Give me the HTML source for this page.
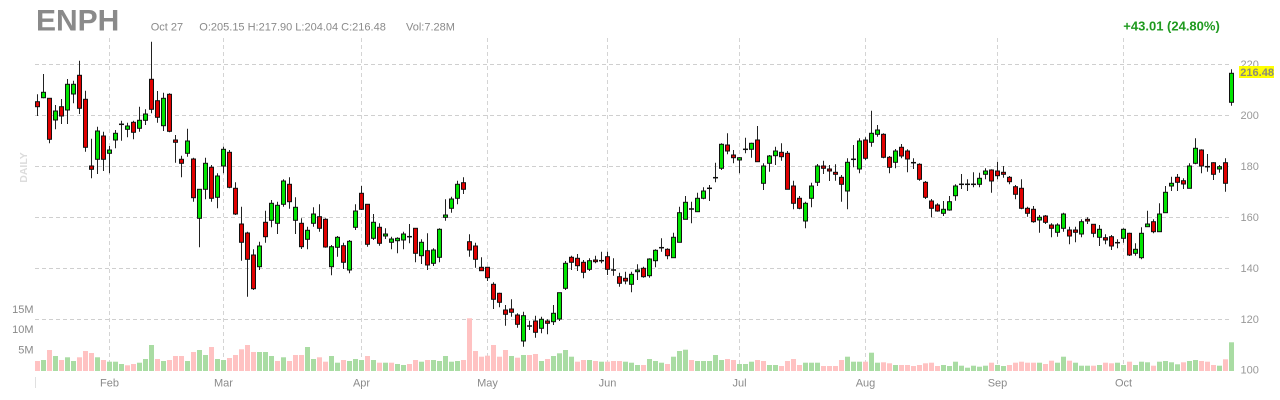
<!DOCTYPE html>
<html>
<head>
<meta charset="utf-8">
<style>
html,body{margin:0;padding:0;background:#fff;}
#wrap{position:relative;width:1280px;height:400px;overflow:hidden;background:#fff;font-family:"Liberation Sans",Arial,sans-serif;}
svg{position:absolute;left:0;top:0;}
</style>
</head>
<body>
<div id="wrap">
<svg id="chart" width="1280" height="400" viewBox="0 0 1280 400" xmlns="http://www.w3.org/2000/svg" font-family="Liberation Sans, Arial, sans-serif">
  <g id="grid"></g>
  <g id="vol"></g>
  <g id="candles"></g>
  <!-- header -->
  <text x="36" y="30.7" font-size="30" font-weight="bold" fill="#8a8a8a">ENPH</text>
  <text x="150.7" y="30.5" font-size="11" fill="#8a8a8a">Oct 27</text>
  <text x="199.3" y="30.5" font-size="11" fill="#8a8a8a">O:205.15 H:217.90 L:204.04 C:216.48</text>
  <text x="406" y="30.5" font-size="11" fill="#8a8a8a">Vol:7.28M</text>
  <text x="1123.3" y="30.7" font-size="13" font-weight="bold" fill="#1f9a1f">+43.01 (24.80%)</text>
  <!-- DAILY -->
  <text x="0" y="0" font-size="10.5" font-weight="bold" fill="#dcdcdc" text-anchor="middle" transform="translate(27,167.5) rotate(-90)">DAILY</text>
  <!-- price axis -->
  <g font-size="11" fill="#999">
    <text x="1240.5" y="68">220</text>
    <text x="1240.5" y="119">200</text>
    <text x="1240.5" y="170">180</text>
    <text x="1240.5" y="221">160</text>
    <text x="1240.5" y="272">140</text>
    <text x="1240.5" y="323">120</text>
    <text x="1240.5" y="373.5">100</text>
  </g>
  <rect x="1239" y="66" width="35" height="12" fill="#ffff00"/>
  <text x="1240.3" y="76" font-size="11" font-weight="bold" fill="#8a8a7a">216.48</text>
  <!-- volume axis -->
  <g font-size="11" fill="#8a8a8a" text-anchor="end">
    <text x="33.5" y="313">15M</text>
    <text x="33.5" y="333">10M</text>
    <text x="33.5" y="353.3">5M</text>
  </g>
  <!-- month labels -->
  <g font-size="11" fill="#8a8a8a" text-anchor="middle">
    <text x="109.5" y="386.5">Feb</text>
    <text x="223.5" y="386.5">Mar</text>
    <text x="361.5" y="386.5">Apr</text>
    <text x="487.5" y="386.5">May</text>
    <text x="607.5" y="386.5">Jun</text>
    <text x="739.5" y="386.5">Jul</text>
    <text x="865.5" y="386.5">Aug</text>
    <text x="997.5" y="386.5">Sep</text>
    <text x="1123.5" y="386.5">Oct</text>
  </g>
  <line x1="35.5" y1="377" x2="35.5" y2="388" stroke="#e0e0e0" stroke-width="1"/>
</svg>
</div>
<script>
(function(){
var NS="http://www.w3.org/2000/svg";
function el(tag,attrs,parent){var e=document.createElementNS(NS,tag);for(var k in attrs)e.setAttribute(k,attrs[k]);parent.appendChild(e);return e;}
var grid=document.getElementById('grid');
[64.5,115.5,166.5,217.5,268.5,319.5].forEach(function(y){
  el('line',{x1:35,y1:y,x2:1232,y2:y,stroke:'#cfcfcf','stroke-width':1,'stroke-dasharray':'4,3'},grid);
});
[12,31,54,75,95,117,138,160,181].forEach(function(i){
  var x=37.5+6*i;
  el('line',{x1:x,y1:38,x2:x,y2:372,stroke:'#d4d4d4','stroke-width':1,'stroke-dasharray':'4,3'},grid);
});
var D=[
[94.3,116,101.7,106.7,'r'],[74,98.3,92.3,97.7,'g'],[98.3,143.3,98.3,139.3,'r'],[105,129.3,111,120,'g'],[99,124,106.7,116,'r'],
[79,124,84.3,110,'g'],[80.7,103.3,84.3,94,'g'],[60.7,114,75.3,108.3,'r'],[90.7,151.7,99.3,147.3,'r'],[138.7,178.3,166,169.3,'r'],
[126.7,174,131,159.3,'g'],[131.7,171,136,159.3,'r'],[146,173.3,150,153.3,'g'],[130,148.3,133.3,140,'g'],[120.7,140.7,124.3,124.3,'d'],
[122.7,137.3,126,129.3,'g'],[120.7,139.3,122.3,132.3,'r'],[106.7,131.7,120.3,128.3,'g'],[109.3,125,114,120.3,'g'],[41.7,113.3,79.3,109.3,'r'],
[91,122.7,100.7,117.3,'r'],[92.7,131,98.3,125.7,'g'],[93.3,132.3,94.3,131.3,'r'],[135,162.7,140,142.3,'r'],[155.7,177.3,159.3,163.3,'r'],
[128.7,156.7,141,153.3,'g'],[157.7,201.7,159,197.7,'r'],[189.3,247.3,189.3,218.3,'g'],[157.7,199.3,163.3,189.3,'g'],[165,201.7,167.3,198.3,'r'],
[173.3,208.3,176,197.3,'g'],[146.7,173.3,149.3,166,'g'],[150,188.3,152.3,187.3,'r'],[182.3,215,188.3,214,'r'],[206.7,260.7,224,242.3,'r'],
[231.7,296.7,233,259.3,'r'],[249.3,290,255,288.7,'r'],[241.7,270,246,266.7,'g'],[210.7,242.7,222.3,236.7,'r'],[200,227.3,203.3,220.3,'g'],
[201.7,234,205.3,223.3,'g'],[179.3,206.7,181,204.3,'g'],[177.3,208.7,184.3,201.7,'r'],[197.3,234,207.3,220.3,'g'],[218.3,249,223.3,246.7,'r'],
[226.7,249.3,230.3,239.3,'g'],[207.3,226.7,214,223.3,'g'],[204.3,231.7,216.7,228.3,'r'],[218.3,247.7,219.3,247,'r'],[245,275.3,246.7,266.7,'g'],
[236,256.7,237.3,247.3,'g'],[242.7,269,245.7,262.3,'r'],[240,273.3,241.3,270,'g'],[204.3,230,211,227.3,'g'],[186,210,193.3,209.3,'r'],
[204,246.7,204.3,244.3,'r'],[214,240,222.3,238.3,'g'],[223.3,245.7,227.3,243.3,'r'],[228.3,239,234,236,'g'],[236.7,249.3,239,242.3,'g'],
[237.3,253.3,238.3,240.7,'g'],[231.7,249.3,234,240,'g'],[224,243.3,236.7,236.7,'d'],[228.3,262.3,228.3,253.3,'r'],[239.3,264,242.3,255.7,'g'],
[233.3,270,250.7,265,'r'],[248.3,266,250,263.3,'g'],[228.3,262.3,229.3,257.3,'g'],[199.3,220.7,215,217.3,'g'],[196.7,212.7,199,208.3,'g'],
[180.7,204.3,184.3,198.3,'g'],[177.3,194,182.7,189.3,'r'],[234.3,256.7,241.7,250,'r'],[242.7,267.7,246,259.3,'r'],[257.3,270.7,267.3,270.7,'r'],
[266.7,281,267.3,277.7,'r'],[282.3,309,284.3,299.3,'r'],[292.7,307.3,293.3,302.3,'r'],[305,325.7,310,314.3,'r'],[299.3,316.7,309,312.3,'r'],
[313.3,327.7,315,324.3,'r'],[311.7,346.7,315.7,341,'g'],[320.7,330,326,326,'d'],[315.7,337.7,321,332.3,'r'],[316.7,333.3,319.3,328.3,'g'],
[319.3,334.3,321,323.3,'r'],[305,325,313.3,321.7,'g'],[292.7,321,292.7,319,'g'],[261,290,263.3,288.3,'g'],[255.7,270,257.3,262.3,'r'],
[254,271,258.3,265.7,'r'],[260,278.3,262.3,272.3,'r'],[258.3,271,260.7,269.3,'g'],[255.7,263.3,260,261.7,'r'],[251.7,263.3,260.7,260.7,'d'],
[251.7,275,256.7,269.3,'r'],[258.3,275.7,270,270,'d'],[272.7,286.7,276.7,283.3,'r'],[271.7,284.3,278.3,281,'r'],[271.7,292.3,274.3,284.3,'g'],
[264.3,280,270,271.7,'g'],[266.7,277.7,268.3,276.7,'r'],[258.3,277.7,259,275.7,'g'],[249.3,267.3,250.3,260.7,'g'],[238.3,251.7,247.7,247.7,'d'],
[248.3,259.3,249.3,255.7,'r'],[232.7,257.7,237.3,257.7,'g'],[206.7,242.3,212.7,242.3,'g'],[196,219.3,202.3,219.3,'g'],[201.7,223.3,209,209,'d'],
[192.7,211.7,198.3,211.7,'g'],[187.3,199.3,191,198.3,'g'],[185,201,188.3,188.3,'d'],[162.7,182.3,177.7,177.7,'d'],[143.3,170,144.3,168.3,'g'],
[133.3,154.3,145,151,'r'],[150,163.3,155,157.7,'r'],[157.3,173.3,157.7,160,'g'],[137.7,153.3,149.3,149.3,'d'],[142.7,157.7,143.3,149.3,'g'],
[126,161.7,140,161.7,'r'],[163.3,190,166,183.3,'g'],[155,171.7,156,163.3,'g'],[146.7,165,151,155.7,'g'],[143.3,160.7,152.3,156.7,'r'],
[151,189.3,153.3,189.3,'r'],[180.7,209.3,186,203.3,'r'],[196,209.3,198.3,208.3,'r'],[201.7,228.3,203.3,221,'g'],[182.7,207.3,186,198.3,'g'],
[164,186,166,182.3,'g'],[160.7,174,166,168.3,'r'],[165,181,169,171,'r'],[164.3,180.7,172.3,174.3,'r'],[175,201.7,177.3,184.3,'r'],
[158.3,209.3,162.3,191,'g'],[145,167.3,159.3,159.3,'d'],[138.3,173.3,141,169,'g'],[137.3,160,140,158.3,'r'],[110.7,146.7,133.3,142.3,'g'],
[125,136.7,130,134.3,'g'],[133.3,158.3,134.3,157.3,'r'],[156,173.3,157.3,167.3,'r'],[149,168.3,151,162.3,'g'],[144,158.3,147.3,156,'r'],
[149.3,172.3,151,159,'r'],[158.3,169,162.7,162.7,'d'],[163.3,180.7,164.3,179.3,'r'],[181,199,182.3,197.3,'r'],[199,217.3,201,208.3,'r'],
[203.3,211.7,205,211,'r'],[201,216,209.3,213.3,'g'],[196,210.7,201.7,210,'g'],[184.3,200.7,186,195.7,'g'],[174,189,184.3,184.3,'d'],
[179.3,191,184.3,184.3,'d'],[172.3,187.3,184.3,185.3,'d'],[172.7,187.3,178.3,184.3,'g'],[168.3,179.3,171,174.3,'g'],[169.3,192.7,170,181,'r'],
[161.7,179.3,171,175.7,'r'],[166,177.7,172.3,174.3,'r'],[176,184.3,177.3,181.7,'r'],[185,199.3,186.7,194.3,'r'],[179.3,209.3,188.3,208.3,'r'],
[206.7,216.7,208.3,213.3,'r'],[206,222.7,209.3,221.7,'r'],[215,232.7,217.3,220,'g'],[215,224,216,222.3,'r'],[223.3,237.3,225,228.3,'r'],
[223.3,236.7,225,232.3,'g'],[212.7,231.7,214,228.3,'g'],[226.7,244.3,230,236,'r'],[226.7,242.3,230,232.3,'r'],[219.3,237.3,221.7,234,'g'],
[217.3,224,219.3,221,'r'],[224,237.3,224.3,233.3,'r'],[225,246,229.3,237.3,'g'],[234.3,244.3,237.7,240,'r'],[235,250,236.7,246,'r'],
[239.3,248.3,242.7,242.7,'d'],[228.3,242.7,229.3,238.3,'g'],[232.7,256,233.3,255,'r'],[243.3,255.7,249.3,253.3,'g'],[227.3,259.3,233.3,257.7,'g'],
[210.7,226.7,224,226.7,'g'],[219.3,233.3,221.7,231.7,'r'],[203.3,231.7,214,231.7,'g'],[186,212.7,192.3,212.7,'g'],[176.7,191,183.3,186,'g'],
[174,191,177.3,182.3,'r'],[178.3,189,180.7,184,'r'],[163.3,188.3,166,188.3,'g'],[138.3,164.3,148.3,163.3,'g'],[149.3,173.3,150,166,'r'],
[154,171.7,166.7,166.7,'d'],[162.3,180,162.7,174.3,'r'],[165,172.7,166.7,169,'g'],[158.3,191.7,162.7,183.3,'r'],[69.3,105.7,73.3,102.3,'g']
];
var V=[361,360,350,356,360,357.3,361,357.3,351,353,357.3,360,361.7,361.7,364,365.3,364,362.7,359,345,
359,361,360,356,356,361,352,350,355,347,359,360,358,355,349.3,345,352,352,352,356,
361,357.3,361,355,355,347,359,357.3,361.7,356,362.7,360,361,359,360,356,360,362.7,362.7,362.7,
364,365,364,360,361.7,360,360,361,356,361.7,361,360,318.3,351,356.7,355.7,345,356.7,350,356,
357.7,355,355,354,361,359,356,353.3,350,356.7,361.7,360,360,361,361.7,361.7,361,361,361.7,362.7,
365,365,359,361,362.7,364,356.7,351,349.7,360,361,361,361,355,360,359,360,364,364,361.7,
360,361,365,365,366,361,359,365,362.7,362.7,362.7,366,366,366,360,356.7,361.7,361.7,361.7,352.7,
362.7,362.3,363.3,365,365,365,366,365,363.3,362.7,366,365,366,361.7,365.7,367.7,365.7,366.7,365.7,362.7,
365,366,365,362.7,361.7,362.7,362.7,362.7,364,360.7,362.7,356.7,360.7,362.7,365.7,365.7,365.7,365,362.7,363.3,
362.7,365,361.7,365,361.7,362.3,365.7,361.7,361,362.3,364.3,362.3,361,360,361,361.7,365,365.7,359.3,342.3];
var vol=document.getElementById('vol'), cg=document.getElementById('candles');
var prevClose=null;
for(var i=0;i<D.length;i++){
  var d=D[i], cx=37.5+6*i;
  var close = d[4]==='r'?d[3]:d[2];
  var vc = (prevClose===null || close>prevClose+0.01) ? '#ffc2c2' : '#a9dca3';
  if(i===0) vc='#ffc2c2';
  prevClose=close;
  var vt=V[i]; 
  el('rect',{x:35+6*i,y:vt,width:5,height:371-vt,fill:vc},vol);
  el('line',{x1:cx,y1:d[0],x2:cx,y2:d[1],stroke:'#222','stroke-width':1},cg);
  if(d[4]==='d'){
    el('rect',{x:cx-2.5,y:d[2]-0.75,width:5,height:1.5,fill:'#111'},cg);
  } else {
    var h=Math.max(d[3]-d[2],1);
    el('rect',{x:cx-2,y:d[2],width:4,height:h,fill:(d[4]==='g'?'#00e400':'#e00000'),stroke:'#111','stroke-width':1},cg);
  }
}
})();
</script>
</body>
</html>
